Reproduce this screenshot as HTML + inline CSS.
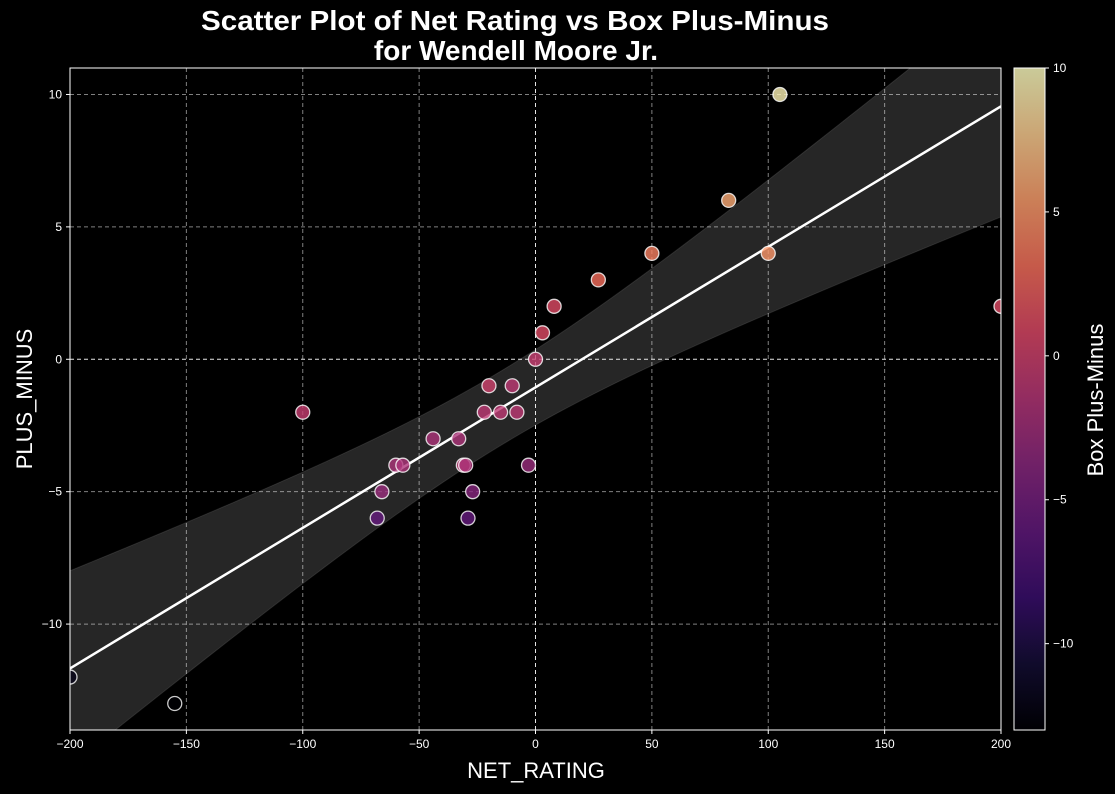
<!DOCTYPE html>
<html><head><meta charset="utf-8"><style>
body{margin:0;background:#000;width:1115px;height:789px;overflow:hidden;font-family:"Liberation Sans",Arial,sans-serif}
</style></head><body>
<svg id="chart" width="1115" height="789" xmlns="http://www.w3.org/2000/svg">
<defs><linearGradient id="magma" x1="0" y1="1" x2="0" y2="0">
<stop offset="0" stop-color="#000004"/><stop offset="0.1" stop-color="#140e36"/><stop offset="0.2" stop-color="#3b0f70"/><stop offset="0.3" stop-color="#641a80"/><stop offset="0.4" stop-color="#8c2981"/><stop offset="0.5" stop-color="#b73779"/><stop offset="0.6" stop-color="#de4968"/><stop offset="0.7" stop-color="#f7705c"/><stop offset="0.8" stop-color="#fe9f6d"/><stop offset="0.9" stop-color="#fecf92"/><stop offset="1" stop-color="#fcfdbf"/>
</linearGradient></defs>
<rect width="1115" height="789" fill="#000"/>
<text x="515" y="30" fill="#fff" font-size="28" font-weight="bold" text-anchor="middle" textLength="628" lengthAdjust="spacingAndGlyphs">Scatter Plot of Net Rating vs Box Plus-Minus</text>
<text x="516" y="60" fill="#fff" font-size="28" font-weight="bold" text-anchor="middle">for Wendell Moore Jr.</text>
<g id="plot"></g>
<text x="536" y="778" fill="#fff" font-size="22" text-anchor="middle">NET_RATING</text>
<text transform="translate(32,399) rotate(-90)" fill="#fff" font-size="22" text-anchor="middle">PLUS_MINUS</text>
<rect x="1014" y="68" width="31" height="662" fill="url(#magma)" opacity="0.8"/>
<rect x="1014" y="68" width="31" height="662" fill="none" stroke="#fff" stroke-width="1"/>
<text transform="translate(1103,400) rotate(-90)" fill="#fff" font-size="22" text-anchor="middle">Box Plus-Minus</text>
<g id="cbticks"></g>
</svg>
<script>
const netRating=[-200,-155,-100,-68,-66,-60,-57,-44,-33,-31,-30,-29,-27,-22,-20,-15,-10,-8,-3,0,3,8,27,50,83,100,105,200];
const plusMinus=[-12,-13,-2,-6,-5,-4,-4,-3,-3,-4,-4,-6,-5,-2,-1,-2,-1,-2,-4,0,1,2,3,4,6,4,10,2];
const boxPM=[-12,-13,-0.5,-6,-3,-2,-2,-2,-2,-1,-2,-6,-4,-1,0,-1,-1,-1,-3,-0.5,1,1,3,4,6,5,9.5,1];
const xTicks=[-200,-150,-100,-50,0,50,100,150,200];
const yTicks=[-10,-5,0,5,10];
const cbTicks=[-10,-5,0,5,10];
const NS="http://www.w3.org/2000/svg";
const X0=70,X1=1001,Y0=68,Y1=730,XMIN=-200,XMAX=200,YMIN=-14,YMAX=11;
const sx=v=>X0+(v-XMIN)/(XMAX-XMIN)*(X1-X0);
const sy=v=>Y1-(v-YMIN)/(YMAX-YMIN)*(Y1-Y0);
const CMIN=-13,CMAX=10;
const cy=v=>730-(v-CMIN)/(CMAX-CMIN)*662;
const stops=["#000004","#140e36","#3b0f70","#641a80","#8c2981","#b73779","#de4968","#f7705c","#fe9f6d","#fecf92","#fcfdbf"];
function hex(h){return[1,3,5].map(i=>parseInt(h.substr(i,2),16));}
function magma(v){let t=Math.max(0,Math.min(1,(v-CMIN)/(CMAX-CMIN)))*10;let i=Math.min(9,Math.floor(t)),f=t-i;let a=hex(stops[i]),b=hex(stops[i+1]);return"rgb("+a.map((c,k)=>Math.round(c+(b[k]-c)*f)).join(",")+")";}
function mk(tag,attrs,parent){const e=document.createElementNS(NS,tag);for(const k in attrs)e.setAttribute(k,attrs[k]);parent.appendChild(e);return e;}
const g=document.getElementById("plot");
const clip=mk("clipPath",{id:"pc"},g);mk("rect",{x:X0,y:Y0,width:X1-X0,height:Y1-Y0},clip);
xTicks.forEach(t=>{const l=mk("line",{x1:sx(t),x2:sx(t),y1:Y0,y2:Y1,stroke:"#fff","stroke-opacity":t==0?0.9:0.5,"stroke-dasharray":"4,3","stroke-width":1},g);


const tk=mk("text",{x:sx(t),y:Y1+18,fill:"#fff","font-size":12,"text-anchor":"middle"},g);tk.textContent=t<0?"\u2212"+(-t):t;


mk("line",{x1:sx(t),x2:sx(t),y1:Y1,y2:Y1+4,stroke:"#fff"},g);});
yTicks.forEach(t=>{const l=mk("line",{x1:X0,x2:X1,y1:sy(t),y2:sy(t),stroke:"#fff","stroke-opacity":t==0?0.9:0.5,"stroke-dasharray":"4,3","stroke-width":1},g);


const tk=mk("text",{x:X0-8,y:sy(t)+4,fill:"#fff","font-size":12,"text-anchor":"end"},g);tk.textContent=t<0?"\u2212"+(-t):t;


mk("line",{x1:X0-4,x2:X0,y1:sy(t),y2:sy(t),stroke:"#fff"},g);});
const n=netRating.length,mx=netRating.reduce((a,b)=>a+b)/n,my=plusMinus.reduce((a,b)=>a+b)/n;
let sxx=0,sxy=0;for(let i=0;i<n;i++){sxx+=(netRating[i]-mx)**2;sxy+=(netRating[i]-mx)*(plusMinus[i]-my);}
const b=sxy/sxx,a=my-b*mx;let sse=0;for(let i=0;i<n;i++)sse+=(plusMinus[i]-a-b*netRating[i])**2;
const s=Math.sqrt(sse/(n-2));
let up=[],lo=[];for(let x=XMIN;x<=XMAX;x+=5){const h=2.06*s*Math.sqrt(1/n+(x-mx)**2/sxx)*1.35;const yh=a+b*x;up.push(sx(x)+","+sy(yh+h));lo.unshift(sx(x)+","+sy(yh-h));}
const cg=mk("g",{"clip-path":"url(#pc)"},g);
const band=mk("polygon",{points:up.concat(lo).join(" "),fill:"#fff","fill-opacity":0.15,stroke:"#fff","stroke-opacity":0.1},cg);


const rl=mk("line",{x1:sx(XMIN),y1:sy(a+b*XMIN),x2:sx(XMAX),y2:sy(a+b*XMAX),stroke:"#fff","stroke-width":2.5},cg);


for(let i=0;i<n;i++){const c=mk("circle",{cx:sx(netRating[i]),cy:sy(plusMinus[i]),r:7,fill:magma(boxPM[i]),"fill-opacity":0.8,stroke:"#fff","stroke-opacity":0.8,"stroke-width":1.3},cg);

}
mk("rect",{x:X0,y:Y0,width:X1-X0,height:Y1-Y0,fill:"none",stroke:"#fff","stroke-width":1},g);
const cb=document.getElementById("cbticks");
cbTicks.forEach(t=>{mk("line",{x1:1045,x2:1049,y1:cy(t),y2:cy(t),stroke:"#fff"},cb);
const tk=mk("text",{x:1053,y:cy(t)+4,fill:"#fff","font-size":12},cb);tk.textContent=t<0?"\u2212"+(-t):t;

});
</script>
</body></html>
